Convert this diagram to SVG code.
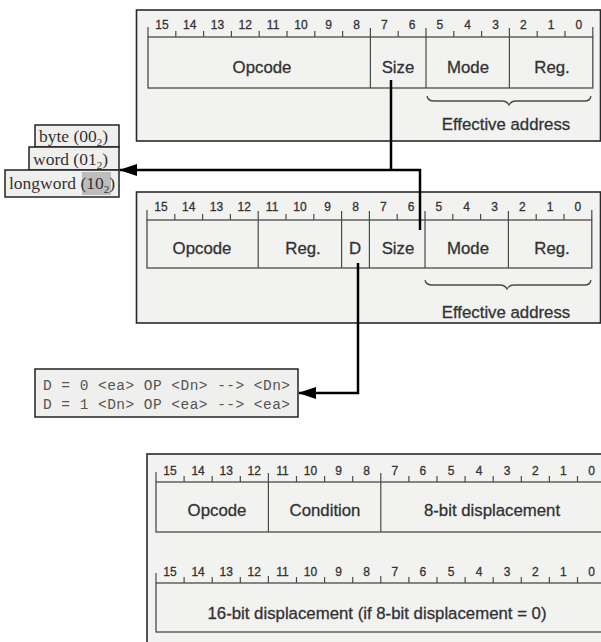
<svg xmlns="http://www.w3.org/2000/svg" width="601" height="642" viewBox="0 0 601 642">
<defs>
<style>
.frame{fill:#f2f2f1;stroke:#2a2a2a;stroke-width:1.6}
.fld{fill:none;stroke:#4a4a4a;stroke-width:1.3}
.tick{fill:none;stroke:#4a4a4a;stroke-width:1.2}
.num{font-family:"Liberation Sans",Arial,sans-serif;font-size:12px;fill:#333;stroke:#333;stroke-width:0.3;text-anchor:middle}
.lab{font-family:"Liberation Sans",Arial,sans-serif;font-size:16.8px;fill:#333;stroke:#333;stroke-width:0.3;text-anchor:middle}
.ser{font-family:"Liberation Serif","Times New Roman",serif;font-size:17.5px;fill:#333}
.mono{font-family:"Liberation Mono","Courier New",monospace;font-size:14.5px;fill:#555}
.sbox{fill:#efefee;stroke:#222;stroke-width:1.5}
.conn{fill:none;stroke:#000;stroke-width:2.5}
.brace{fill:none;stroke:#4a4a4a;stroke-width:1.3}
</style>
<marker id="arr" markerWidth="18" markerHeight="12" refX="17" refY="6" orient="auto" markerUnits="userSpaceOnUse">
<path d="M0,0 L18,6 L0,12 Z" fill="#000"/>
</marker>
</defs>
<rect width="601" height="642" fill="#ffffff"/>

<g id="top-format">
<rect class="frame" x="136.5" y="10" width="464" height="131"/>
<rect class="fld" x="148" y="37" width="444.8" height="51"/>
<path class="tick" d="M148,27V37M175.8,31V37M203.6,31V37M231.4,31V37M259.2,31V37M287,31V37M314.8,31V37M342.6,31V37M370.4,28V88M398.2,31V37M426,28V88M453.8,31V37M481.6,31V37M509.4,28V88M537.2,31V37M565,31V37M592.8,27V37"/>
<text class="num" y="29"><tspan x="161.9">15</tspan><tspan x="189.7">14</tspan><tspan x="217.5">13</tspan><tspan x="245.3">12</tspan><tspan x="273.1">11</tspan><tspan x="300.9">10</tspan><tspan x="328.7">9</tspan><tspan x="356.5">8</tspan><tspan x="384.3">7</tspan><tspan x="412.1">6</tspan><tspan x="439.9">5</tspan><tspan x="467.7">4</tspan><tspan x="495.5">3</tspan><tspan x="523.3">2</tspan><tspan x="551.1">1</tspan><tspan x="578.9">0</tspan></text>
<text class="lab" x="262" y="73">Opcode</text>
<text class="lab" x="398" y="73">Size</text>
<text class="lab" x="468" y="73">Mode</text>
<text class="lab" x="552" y="73">Reg.</text>
<path class="brace" d="M427,96 Q428,101 434,101 H502 Q507,101 509,105 Q511,101 516,101 H585 Q590,101 591,96"/>
<text class="lab" x="506" y="130">Effective address</text>
</g>

<g id="size-byte">
<rect class="sbox" x="35" y="125" width="84" height="22"/>
<text class="ser" x="39" y="142">byte (00<tspan font-size="11" dy="4">2</tspan><tspan dy="-4">)</tspan></text>
</g>
<g id="size-word">
<rect class="sbox" x="29" y="147" width="90" height="23"/>
<text class="ser" x="33" y="165">word (01<tspan font-size="11" dy="4">2</tspan><tspan dy="-4">)</tspan></text>
</g>
<g id="size-longword">
<rect class="sbox" x="5" y="170" width="114" height="27"/>
<rect x="82" y="172" width="29" height="23" fill="#bdbdbb"/>
<text class="ser" x="9" y="189">longword (10<tspan font-size="11" dy="4">2</tspan><tspan dy="-4">)</tspan></text>
</g>

<g id="middle-format">
<rect class="frame" x="136.5" y="192" width="464" height="131"/>
<rect class="fld" x="147" y="220" width="444.8" height="48"/>
<path class="tick" d="M147,210V220M174.8,214V220M202.6,214V220M230.4,214V220M258.2,211V268M286,214V220M313.8,214V220M341.6,211V268M369.4,211V268M397.2,214V220M425,211V268M452.8,214V220M480.6,214V220M508.4,211V268M536.2,214V220M564,214V220M591.8,210V220"/>
<text class="num" y="211"><tspan x="160.9">15</tspan><tspan x="188.7">14</tspan><tspan x="216.5">13</tspan><tspan x="244.3">12</tspan><tspan x="272.1">11</tspan><tspan x="299.9">10</tspan><tspan x="327.7">9</tspan><tspan x="355.5">8</tspan><tspan x="383.3">7</tspan><tspan x="411.1">6</tspan><tspan x="438.9">5</tspan><tspan x="466.7">4</tspan><tspan x="494.5">3</tspan><tspan x="522.3">2</tspan><tspan x="550.1">1</tspan><tspan x="577.9">0</tspan></text>
<text class="lab" x="202" y="254">Opcode</text>
<text class="lab" x="303" y="254">Reg.</text>
<text class="lab" x="355" y="254">D</text>
<text class="lab" x="398" y="254">Size</text>
<text class="lab" x="468" y="254">Mode</text>
<text class="lab" x="552" y="254">Reg.</text>
<path class="brace" d="M425,280 Q426,285 432,285 H500 Q505,285 507,289 Q509,285 514,285 H585 Q590,285 591,280"/>
<text class="lab" x="506" y="318">Effective address</text>
</g>

<g id="d-meaning">
<rect class="sbox" x="35" y="369" width="263" height="48"/>
<text class="mono" x="43" y="390" textLength="247" lengthAdjust="spacing">D = 0 &lt;ea&gt; OP &lt;Dn&gt; --&gt; &lt;Dn&gt;</text>
<text class="mono" x="43" y="409" textLength="247" lengthAdjust="spacing">D = 1 &lt;Dn&gt; OP &lt;ea&gt; --&gt; &lt;ea&gt;</text>
</g>

<g id="branch-format">
<rect class="frame" x="147" y="454" width="470" height="200"/>
<rect class="fld" x="156" y="482" width="449.6" height="50"/>
<path class="tick" d="M156,472V482M184.1,476V482M212.2,476V482M240.3,476V482M268.4,473V532M296.5,476V482M324.6,476V482M352.7,476V482M380.8,473V532M408.9,476V482M437,476V482M465.1,476V482M493.2,476V482M521.3,476V482M549.4,476V482M577.5,476V482"/>
<text class="num" y="475"><tspan x="170">15</tspan><tspan x="198.1">14</tspan><tspan x="226.2">13</tspan><tspan x="254.3">12</tspan><tspan x="282.4">11</tspan><tspan x="310.5">10</tspan><tspan x="338.6">9</tspan><tspan x="366.7">8</tspan><tspan x="394.8">7</tspan><tspan x="422.9">6</tspan><tspan x="451">5</tspan><tspan x="479.1">4</tspan><tspan x="507.2">3</tspan><tspan x="535.3">2</tspan><tspan x="563.4">1</tspan><tspan x="591.5">0</tspan></text>
<text class="lab" x="217" y="516">Opcode</text>
<text class="lab" x="325" y="516">Condition</text>
<text class="lab" x="492" y="516">8-bit displacement</text>
<rect class="fld" x="156" y="583" width="449.6" height="49"/>
<path class="tick" d="M156,573V583M184.1,577V583M212.2,577V583M240.3,577V583M268.4,576V583M296.5,577V583M324.6,577V583M352.7,577V583M380.8,576V583M408.9,577V583M437,577V583M465.1,577V583M493.2,577V583M521.3,577V583M549.4,577V583M577.5,577V583"/>
<text class="num" y="576"><tspan x="170">15</tspan><tspan x="198.1">14</tspan><tspan x="226.2">13</tspan><tspan x="254.3">12</tspan><tspan x="282.4">11</tspan><tspan x="310.5">10</tspan><tspan x="338.6">9</tspan><tspan x="366.7">8</tspan><tspan x="394.8">7</tspan><tspan x="422.9">6</tspan><tspan x="451">5</tspan><tspan x="479.1">4</tspan><tspan x="507.2">3</tspan><tspan x="535.3">2</tspan><tspan x="563.4">1</tspan><tspan x="591.5">0</tspan></text>
<text class="lab" x="377" y="619">16-bit displacement (if 8-bit displacement = 0)</text>
</g>

<g id="connectors">
<path class="conn" d="M391,80 V170"/>
<path class="conn" d="M420,230 V170 H120" marker-end="url(#arr)"/>
<path class="conn" d="M358,263 V393 H299" marker-end="url(#arr)"/>
</g>
</svg>
